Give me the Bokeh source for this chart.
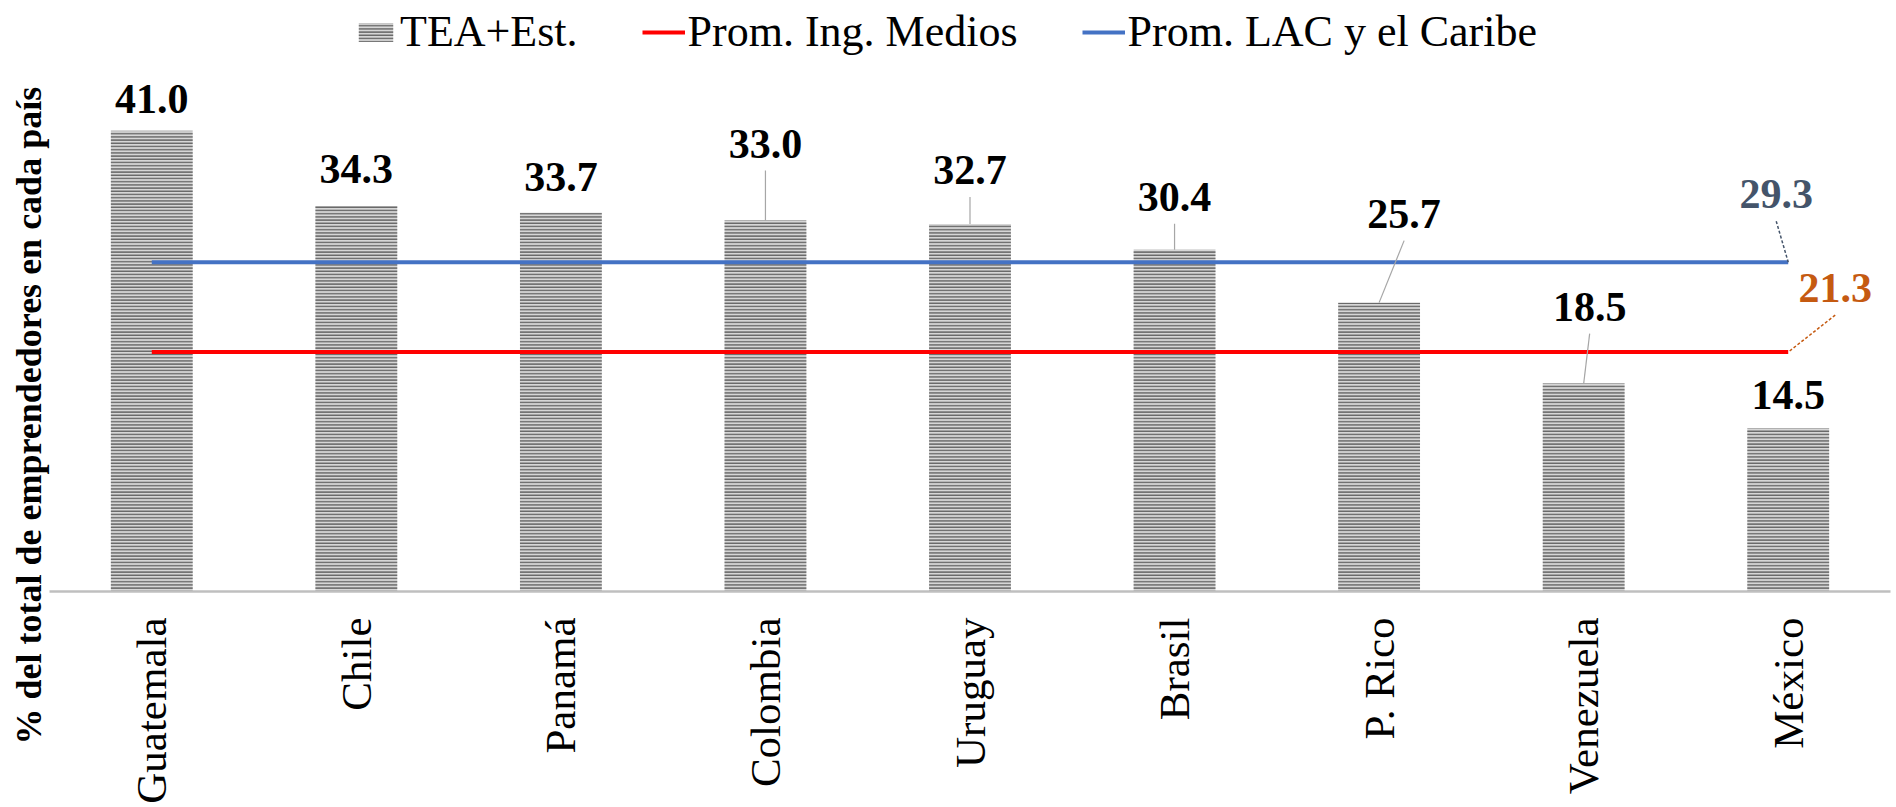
import math
from bokeh.plotting import figure
from bokeh.models import FactorRange, Range1d, ColumnDataSource, Legend, LegendItem, Title
from bokeh.core.properties import value
from bokeh.embed import file_html
from bokeh.resources import INLINE

# ---------------- data ----------------
countries = ["Guatemala", "Chile", "Panamá", "Colombia", "Uruguay",
             "Brasil", "P. Rico", "Venezuela", "México"]
tea_est = [41.0, 34.3, 33.7, 33.0, 32.7, 30.4, 25.7, 18.5, 14.5]
prom_ing_medios = 21.3
prom_lac = 29.3
series_names = ["TEA+Est.", "Prom. Ing. Medios", "Prom. LAC y el Caribe"]
y_title = "% del total de emprendedores en cada país"

# ---------------- label placement (pixels) ----------------
label_dx = [0, 0, 0, 0, 0, 0, 25, 6, 0]          # shift of value label from bar centre
label_gap = [18, 23, 22, 63, 40, 39, 75, 63, 20]  # bar top -> bottom of digits
has_leader = [False, False, False, True, True, True, True, True, False]
HALF_DIGIT = 14   # px from digit bottom to text middle (42px bold)

W, H = 1896, 807
LEFT, RIGHT, BOTTOM = 49, 6, 216
frame_w = W - LEFT - RIGHT
frame_h = H - BOTTOM
PX_PER_UNIT = 11.24
y_max = frame_h / PX_PER_UNIT
cat_px = frame_w / len(countries)

FONT = "Liberation Serif"

p = figure(width=W, height=H, output_backend="svg", toolbar_location=None,
           x_range=FactorRange(factors=countries, range_padding=0),
           y_range=Range1d(0, y_max),
           min_border_left=LEFT, min_border_right=RIGHT, min_border_top=0,
           min_border_bottom=BOTTOM, outline_line_color=None)
p.xgrid.visible = False
p.ygrid.visible = False
p.yaxis.visible = False

# y title (no visible y axis in the reference); starts 153px below the frame bottom
p.add_layout(Title(text=y_title, align="left", offset=-153, standoff=0,
                   vertical_align="middle", text_font=FONT, text_font_style="bold",
                   text_font_size="36px", text_color="black"), "left")

xa = p.xaxis[0]
xa.axis_line_color = "#BFBFBF"
xa.axis_line_width = 2.5
xa.major_tick_line_color = None
xa.minor_tick_line_color = None
xa.major_tick_out = 0
xa.major_tick_in = 0
xa.major_label_standoff = 26
xa.major_label_orientation = math.pi / 2
xa.major_label_text_font = FONT
xa.major_label_text_font_size = "43px"
xa.major_label_text_color = "black"

# bars
src = ColumnDataSource(dict(x=countries, top=tea_est))
bars = p.vbar(x="x", top="top", width=0.4, source=src,
              fill_color="#d6d6d6", line_color=None,
              hatch_pattern="horizontal_line", hatch_color="#666666",
              hatch_scale=3.2, hatch_weight=1.6)

# average lines
red = p.line(x=[countries[0], countries[-1]], y=[prom_ing_medios, prom_ing_medios],
             line_color="#FF0000", line_width=4)
blue = p.line(x=[countries[0], countries[-1]], y=[prom_lac, prom_lac],
              line_color="#4472C4", line_width=4)

# value labels + leaders
lx, ly, lt = [], [], []
sx0, sy0, sx1, sy1 = [], [], [], []
for i, v in enumerate(tea_est):
    xc = i + 0.5
    tx = xc + label_dx[i] / cat_px
    bottom_y = v + label_gap[i] / PX_PER_UNIT
    lx.append(tx); ly.append(bottom_y + HALF_DIGIT / PX_PER_UNIT); lt.append(f"{v:.1f}")
    if has_leader[i]:
        sx0.append(tx); sy0.append(bottom_y - 13 / PX_PER_UNIT)
        sx1.append(xc); sy1.append(v)

p.segment(x0=sx0, y0=sy0, x1=sx1, y1=sy1, line_color="#A6A6A6", line_width=1.2)
p.text(x=lx, y=ly, text=lt, text_font=value(FONT), text_font_style="bold",
       text_font_size="42px", text_align="center", text_baseline="middle",
       text_color="black")

# labels of the average lines (at last category)
last = len(countries) - 0.5
avg_vals = [prom_lac, prom_ing_medios]
avg_colors = ["#44546A", "#C55A11"]
avg_dx = [-12, 47]
avg_gap = [54, 50]
for v, c, dx, gap in zip(avg_vals, avg_colors, avg_dx, avg_gap):
    tx = last + dx / cat_px
    bottom_y = v + gap / PX_PER_UNIT
    p.segment(x0=[tx], y0=[bottom_y - 13 / PX_PER_UNIT], x1=[last], y1=[v],
              line_color=c, line_width=1.5, line_dash="3 2")
    p.text(x=[tx], y=[bottom_y + HALF_DIGIT / PX_PER_UNIT], text=[f"{v:.1f}"],
           text_font=value(FONT), text_font_style="bold", text_font_size="42px",
           text_align="center", text_baseline="middle", text_color=c)

legend = Legend(items=[LegendItem(label=series_names[0], renderers=[bars]),
                       LegendItem(label=series_names[1], renderers=[red]),
                       LegendItem(label=series_names[2], renderers=[blue])],
                orientation="horizontal", location=(305, 534),
                glyph_width=43, glyph_height=24, label_standoff=3, spacing=64,
                padding=0, margin=0, border_line_color=None, background_fill_alpha=0,
                label_text_font=FONT, label_text_font_size="44px",
                label_text_color="black")
p.add_layout(legend)

open("out.html", "w").write(file_html(p, INLINE))
